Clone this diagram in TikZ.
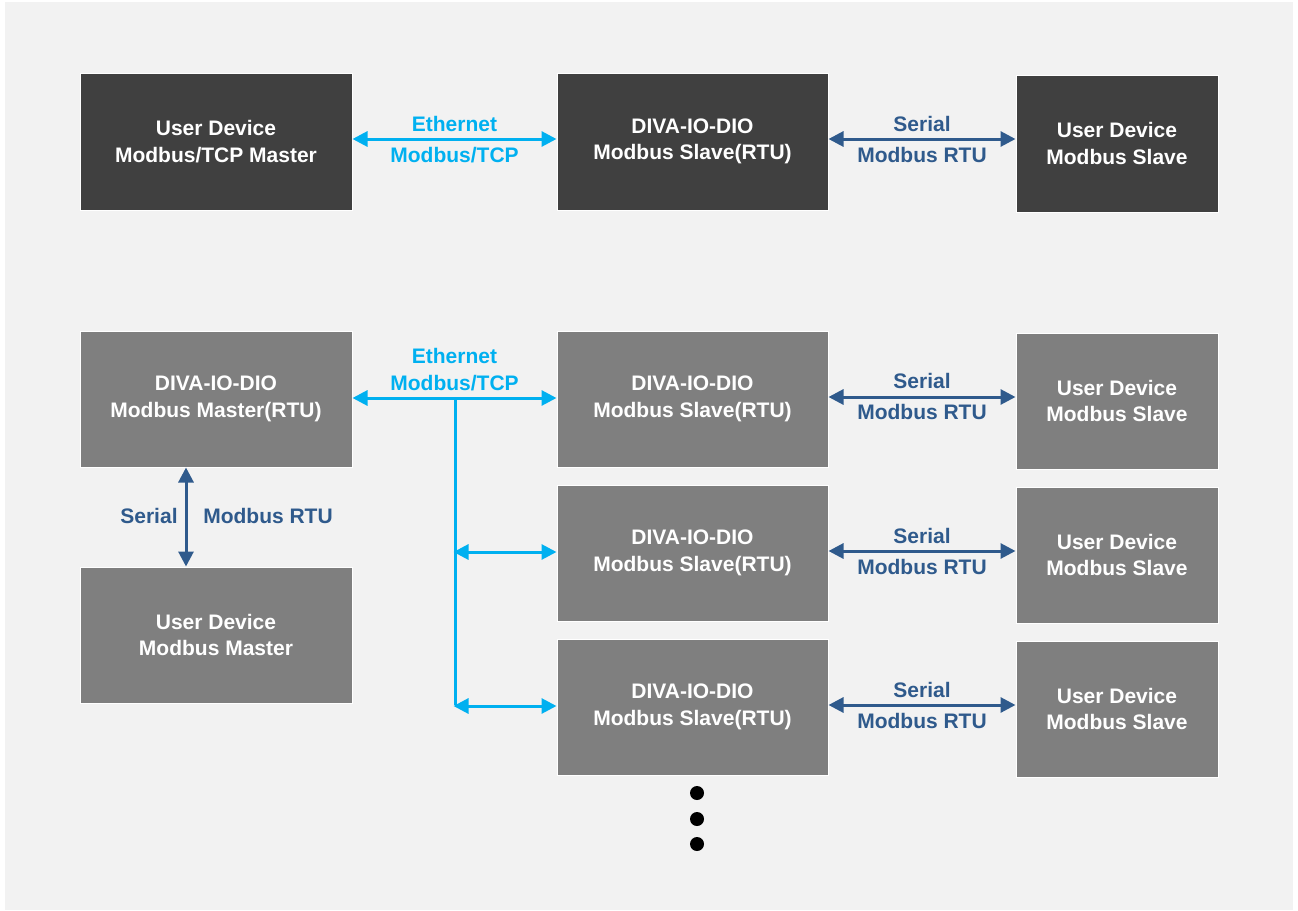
\documentclass[tikz,border=0pt]{standalone}
\usepackage{fontspec}
\setmainfont{Liberation Sans}
\usetikzlibrary{arrows.meta}
\definecolor{bgg}{HTML}{F2F2F2}
\definecolor{darkbox}{HTML}{404040}
\definecolor{graybox}{HTML}{7F7F7F}
\definecolor{eth}{HTML}{00B0F0}
\definecolor{ser}{HTML}{2F5A8C}
\tikzset{
  box/.style={draw=white, line width=1pt, text=white, font=\bfseries\fontsize{21}{26.5}\selectfont, align=center, inner sep=0pt},
  darkb/.style={box, fill=darkbox},
  grayb/.style={box, fill=graybox},
  ethline/.style={draw=eth, line width=3pt, {Triangle[length=15pt,width=15pt]}-{Triangle[length=15pt,width=15pt]}},
  ethplain/.style={draw=eth, line width=3pt},
  serline/.style={draw=ser, line width=3pt, {Triangle[length=15pt,width=15pt]}-{Triangle[length=15pt,width=15pt]}},
  ethlbl/.style={text=eth, font=\bfseries\fontsize{21}{24}\selectfont, inner sep=0pt},
  serlbl/.style={text=ser, font=\bfseries\fontsize{21}{24}\selectfont, inner sep=0pt},
  dotn/.style={circle, fill=black, minimum size=14pt, inner sep=0pt},
}
\begin{document}
\begin{tikzpicture}[x=1pt,y=-1pt]
\useasboundingbox (0,0) rectangle (1298,910);
\fill[bgg] (5,2) rectangle (1293,910);
% top row
\node[darkb, minimum width=272pt, minimum height=137pt] (a1) at (216,141.5) {User Device\\Modbus/TCP Master};
\node[darkb, minimum width=271pt, minimum height=137pt] (a2) at (692.5,141.5) {DIVA-IO-DIO\\Modbus Slave(RTU)};
\node[darkb, minimum width=202pt, minimum height=137pt] (a3) at (1117,143.5) {User Device\\Modbus Slave};
\draw[ethline] (a1.east |- 0,139) -- (a2.west |- 0,139);
\node[ethlbl] (l1) at (454.5,124) {Ethernet};
\node[ethlbl] (l2) at (454.5,155) {Modbus/TCP};
\draw[serline] (a2.east |- 0,139) -- (a3.west |- 0,139);
\node[serlbl] (l3) at (922,124) {Serial};
\node[serlbl] (l4) at (922,155) {Modbus RTU};
% lower left
\node[grayb, minimum width=272pt, minimum height=136pt] (m1) at (216,399) {DIVA-IO-DIO\\Modbus Master(RTU)};
\node[grayb, minimum width=272pt, minimum height=136pt] (m2) at (216,635) {User Device\\Modbus Master};
\draw[serline] (m1.south -| 186,0) -- (m2.north -| 186,0);
\node[serlbl] (l5) at (149,516) {Serial};
\node[serlbl] (l6) at (268,516) {Modbus RTU};
% slaves
\node[grayb, minimum width=271pt, minimum height=136pt] (s1) at (692.5,399) {DIVA-IO-DIO\\Modbus Slave(RTU)};
\node[grayb, minimum width=271pt, minimum height=136pt] (s2) at (692.5,553) {DIVA-IO-DIO\\Modbus Slave(RTU)};
\node[grayb, minimum width=271pt, minimum height=136pt] (s3) at (692.5,707) {DIVA-IO-DIO\\Modbus Slave(RTU)};
\node[grayb, minimum width=202pt, minimum height=136pt] (u1) at (1117,401) {User Device\\Modbus Slave};
\node[grayb, minimum width=202pt, minimum height=136pt] (u2) at (1117,555) {User Device\\Modbus Slave};
\node[grayb, minimum width=202pt, minimum height=136pt] (u3) at (1117,709) {User Device\\Modbus Slave};
% ethernet bus
\coordinate (j0) at (455,398);
\coordinate (j1) at (455,552);
\coordinate (j2) at (455,706);
\draw[ethline] (m1.east |- j0) -- (s1.west |- j0);
\draw[ethplain] (j0) -- ([yshift=1.5pt]j2);
\draw[ethline] ([xshift=-1.5pt]j1) -- (s2.west |- j1);
\draw[ethline] ([xshift=-1.5pt]j2) -- (s3.west |- j2);
\node[ethlbl] (l7) at (454.5,356) {Ethernet};
\node[ethlbl] (l8) at (454.5,383) {Modbus/TCP};
% serial links
\draw[serline] (s1.east |- 0,397) -- (u1.west |- 0,397);
\draw[serline] (s2.east |- 0,551) -- (u2.west |- 0,551);
\draw[serline] (s3.east |- 0,705) -- (u3.west |- 0,705);
\node[serlbl] (l9) at (922,381) {Serial};
\node[serlbl] (l10) at (922,412) {Modbus RTU};
\node[serlbl] (l11) at (922,536) {Serial};
\node[serlbl] (l12) at (922,567) {Modbus RTU};
\node[serlbl] (l13) at (922,690) {Serial};
\node[serlbl] (l14) at (922,721) {Modbus RTU};
% dots
\node[dotn] (d1) at (697,793) {};
\node[dotn] (d2) at (697,819) {};
\node[dotn] (d3) at (697,844) {};
\end{tikzpicture}
\end{document}
